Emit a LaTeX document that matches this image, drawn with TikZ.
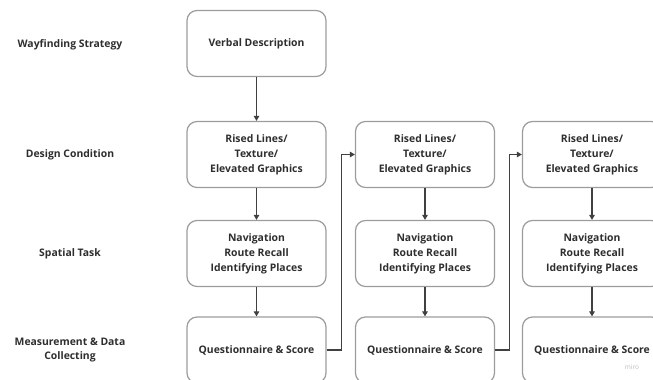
\documentclass[tikz,border=0pt]{standalone}
\usepackage{fontspec}
\setmainfont{Open Sans}
\usetikzlibrary{arrows.meta}

\definecolor{boxline}{HTML}{9C9C9C}
\definecolor{arrline}{HTML}{404040}
\definecolor{txt}{HTML}{2E2E2E}
\tikzset{
  stage/.style={draw=boxline,line width=1.2pt,rounded corners=10pt,minimum width=139pt,minimum height=66pt,align=center,text=txt,font=\bfseries\fontsize{10.4}{15}\selectfont},
  rowlabel/.style={align=center,text=txt,font=\bfseries\fontsize{10.4}{13.5}\selectfont},
  flow/.style={draw=arrline,line width=1.1pt,-{Triangle[length=5pt,width=5.5pt]}}
}

\begin{document}
\begin{tikzpicture}[x=1pt,y=-1pt]
\useasboundingbox (0,0) rectangle (653,380);
\clip (0,0) rectangle (653,380);
% row labels
\node[rowlabel] (lWay) at (70,45) {Wayfinding Strategy};
\node[rowlabel] (lDes) at (70,155) {Design Condition};
\node[rowlabel] (lSpa) at (70,254) {Spatial Task};
\node[rowlabel] (lMea) at (70,350) {Measurement \& Data\\Collecting};

% first column
\node[stage] (v1) at (256.5,43.5) {Verbal Description};
\node[stage] (d1) at (256.5,154.5) {Rised Lines/\\Texture/\\Elevated Graphics};
\node[stage] (s1) at (256.5,253.5) {Navigation\\Route Recall\\Identifying Places};
\node[stage] (q1) at (256.5,350) {Questionnaire \& Score};
% second and third column
\node[stage] (d2) at (425,154.5) {Rised Lines/\\Texture/\\Elevated Graphics};
\node[stage] (s2) at (425,253.5) {Navigation\\Route Recall\\Identifying Places};
\node[stage] (q2) at (425,350) {Questionnaire \& Score};
\node[stage] (d3) at (592,154.5) {Rised Lines/\\Texture/\\Elevated Graphics};
\node[stage] (s3) at (592,253.5) {Navigation\\Route Recall\\Identifying Places};
\node[stage] (q3) at (592,350) {Questionnaire \& Score};

\draw[flow] (v1) -- (d1);
\draw[flow] (d1) -- (s1);
\draw[flow] (s1) -- (q1);
\draw[flow] (d2) -- (s2);
\draw[flow] (s2) -- (q2);
\draw[flow] (d3) -- (s3);
\draw[flow] (s3) -- (q3);
\draw[flow] (q1.east) -- ++(15,0) |- (d2.west);
\draw[flow] (q2.east) -- ++(14,0) |- (d3.west);

\node[text=boxline!70,font=\fontsize{6.5}{7}\selectfont] (wm) at (632,367) {miro};
\end{tikzpicture}
\end{document}
